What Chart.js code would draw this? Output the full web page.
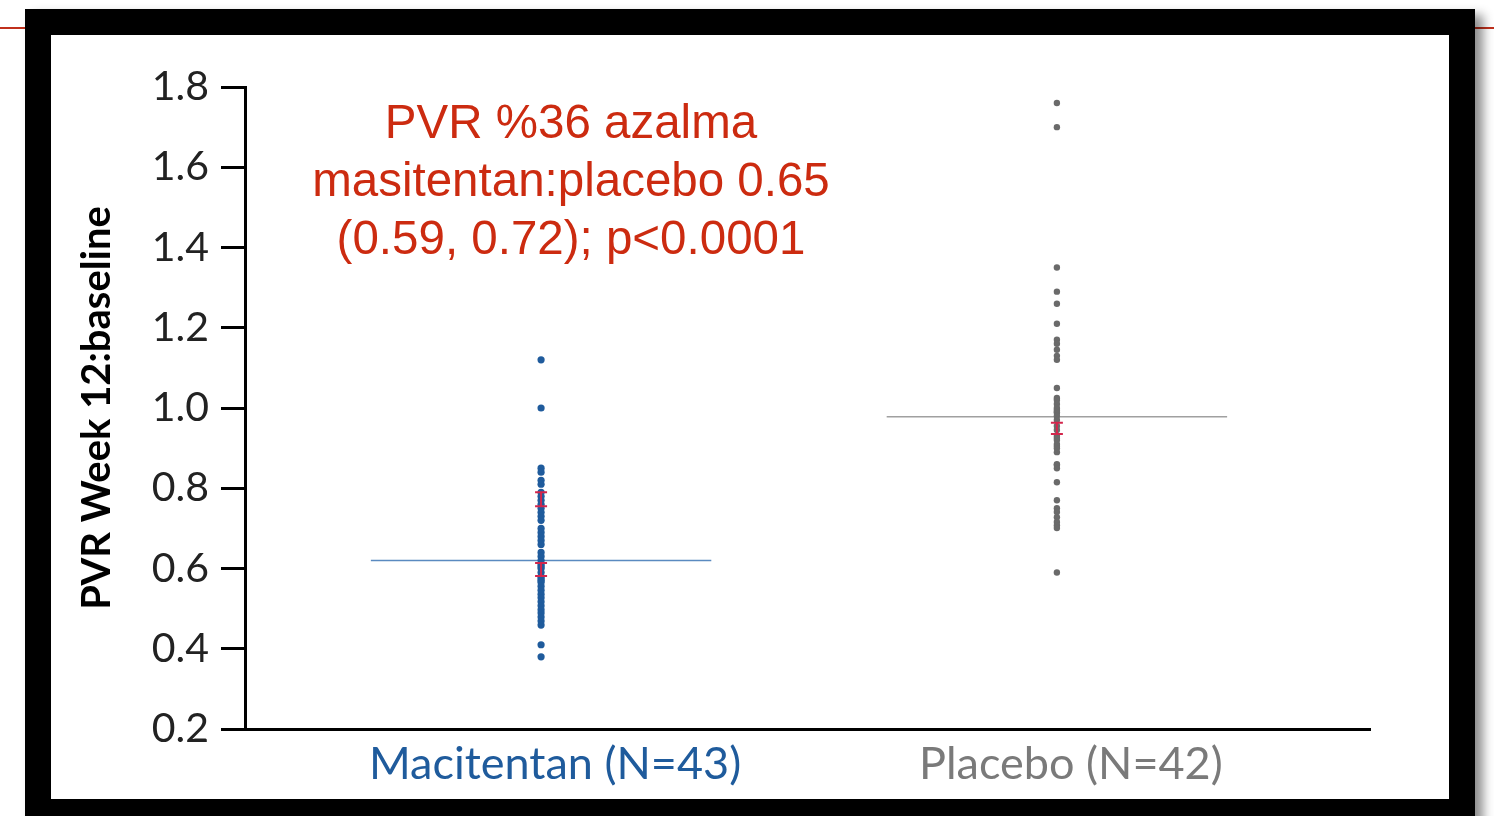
<!DOCTYPE html>
<html lang="tr">
<head>
  <meta charset="UTF-8" />
  <title>PVR Week 12:baseline</title>
  <script src="https://cdn.jsdelivr.net/npm/chart.js"></script>
  <style>
    body {
      margin: 0;
      width: 1494px;
      height: 816px;
      overflow: hidden;
      background: #fff;
      position: relative;
      font-family: Lato, sans-serif;
    }
    .redline {
      position: absolute;
      left: 0;
      top: 27px;
      width: 1494px;
      height: 2px;
      background: #c0301c;
    }
    .frame {
      position: absolute;
      left: 25px;
      top: 9px;
      width: 1398px;
      height: 764px;
      border: 26px solid #000;
      background: #fff;
      box-shadow: 8px 6px 10px rgba(0, 0, 0, 0.45);
    }
    .wrap {
      position: absolute;
      left: 0;
      top: 0;
      width: 1494px;
      height: 816px;
    }
  </style>
</head>
<body>
  <div class="redline"></div>
  <div class="frame"></div>
  <div class="wrap"><canvas id="chart"></canvas></div>

  <script>
    // categories (x position 1 and 2)
    const categories = ['Macitentan (N=43)', 'Placebo (N=42)'];
    const categoryColors = ['#1f5b9c', '#7a7a7a'];

    // individual PVR ratios
    const macitentanValues = [
      1.12, 1.00, 0.85, 0.84, 0.82, 0.81, 0.79, 0.78, 0.77, 0.76,
      0.75, 0.74, 0.73, 0.72, 0.70, 0.69, 0.68, 0.67, 0.66, 0.64,
      0.63, 0.62, 0.61, 0.605, 0.60, 0.59, 0.58, 0.575, 0.57, 0.566,
      0.556, 0.546, 0.536, 0.527, 0.517, 0.507, 0.497, 0.489, 0.479, 0.469,
      0.459, 0.41, 0.38
    ];
    const placeboValues = [
      1.76, 1.70, 1.35, 1.29, 1.26, 1.21, 1.17, 1.16, 1.145, 1.13,
      1.12, 1.05, 1.025, 1.02, 1.01, 1.00, 0.995, 0.99, 0.988, 0.98,
      0.97, 0.955, 0.945, 0.93, 0.925, 0.92, 0.91, 0.905, 0.90, 0.89,
      0.86, 0.858, 0.85, 0.815, 0.77, 0.75, 0.741, 0.728, 0.716, 0.708,
      0.701, 0.59
    ];

    // horizontal group lines
    const meanValues = [0.62, 0.978];
    // small red interval markers [low, high]
    const macitentanRedBars = [[0.755, 0.79], [0.581, 0.614]];
    const placeboRedBars = [[0.935, 0.963]];

    const yTicks = [0.2, 0.4, 0.6, 0.8, 1.0, 1.2, 1.4, 1.6, 1.8];

    const annotationLines = [
      'PVR %36 azalma',
      'masitentan:placebo 0.65',
      '(0.59, 0.72); p<0.0001'
    ];

    const halfWidth = 0.33;

    const toPoints = (vals, x) => vals.map(v => ({ x: x, y: v }));

    // red I-bars and the annotation text
    const extras = {
      id: 'extras',
      afterDatasetsDraw(chart) {
        const { ctx, scales } = chart;
        const drawBars = (bars, x) => {
          const px = scales.x.getPixelForValue(x);
          ctx.save();
          ctx.strokeStyle = '#d3264c';
          ctx.lineWidth = 2;
          bars.forEach(b => {
            const y1 = scales.y.getPixelForValue(b[0]);
            const y2 = scales.y.getPixelForValue(b[1]);
            ctx.beginPath();
            ctx.moveTo(px, y1); ctx.lineTo(px, y2);
            ctx.moveTo(px - 6, y1); ctx.lineTo(px + 6, y1);
            ctx.moveTo(px - 6, y2); ctx.lineTo(px + 6, y2);
            ctx.stroke();
          });
          ctx.restore();
        };
        drawBars(macitentanRedBars, 1);
        drawBars(placeboRedBars, 2);

        ctx.save();
        ctx.fillStyle = '#cc2b10';
        ctx.font = '47.5px "Liberation Sans", Arial, sans-serif';
        ctx.textAlign = 'center';
        ctx.textBaseline = 'middle';
        annotationLines.forEach((t, i) => {
          ctx.fillText(t, 571, 125 + i * 58);
        });
        ctx.restore();
      }
    };

    new Chart(document.getElementById('chart'), {
      type: 'scatter',
      data: {
        datasets: [
          {
            label: categories[0],
            data: toPoints(macitentanValues, 1),
            backgroundColor: '#1f5b9c',
            borderWidth: 0,
            pointRadius: 3.6
          },
          {
            label: categories[1],
            data: toPoints(placeboValues, 2),
            backgroundColor: '#6a6a6a',
            borderWidth: 0,
            pointRadius: 3.2
          },
          {
            type: 'line',
            data: [{ x: 1 - halfWidth, y: meanValues[0] }, { x: 1 + halfWidth, y: meanValues[0] }],
            borderColor: '#5a8ac0',
            borderWidth: 1.5,
            pointRadius: 0
          },
          {
            type: 'line',
            data: [{ x: 2 - halfWidth, y: meanValues[1] }, { x: 2 + halfWidth, y: meanValues[1] }],
            borderColor: '#a0a0a0',
            borderWidth: 1.5,
            pointRadius: 0
          }
        ]
      },
      options: {
        responsive: true,
        maintainAspectRatio: false,
        animation: false,
        layout: { padding: { left: 51, top: 87, right: 124, bottom: 0 } },
        plugins: {
          legend: { display: false },
          tooltip: { enabled: false }
        },
        scales: {
          x: {
            type: 'linear',
            min: 0.426,
            max: 2.607,
            afterFit: s => { s.height = 87; },
            afterBuildTicks: s => { s.ticks = [{ value: 1 }, { value: 2 }]; },
            grid: { display: false },
            border: { color: '#000', width: 3 },
            ticks: {
              callback: v => categories[v - 1],
              color: ctx => categoryColors[ctx.index],
              font: { family: 'Lato', size: 45 },
              padding: 0,
              labelOffset: 14,
              maxRotation: 0
            }
          },
          y: {
            min: 0.2,
            max: 1.8,
            afterFit: s => { s.width = 194; },
            afterBuildTicks: s => { s.ticks = yTicks.map(v => ({ value: v })); },
            grid: {
              drawOnChartArea: false,
              color: '#000',
              lineWidth: 3,
              tickLength: 24
            },
            border: { color: '#000', width: 3 },
            ticks: {
              callback: v => v.toFixed(1),
              color: '#222',
              font: { family: 'Lato', size: 41 },
              padding: 12
            },
            title: {
              display: true,
              text: 'PVR Week 12:baseline',
              color: '#000',
              font: { family: 'Lato', size: 40, weight: 'bold' },
              padding: { top: 22 }
            }
          }
        }
      },
      plugins: [extras]
    });
  </script>
</body>
</html>
